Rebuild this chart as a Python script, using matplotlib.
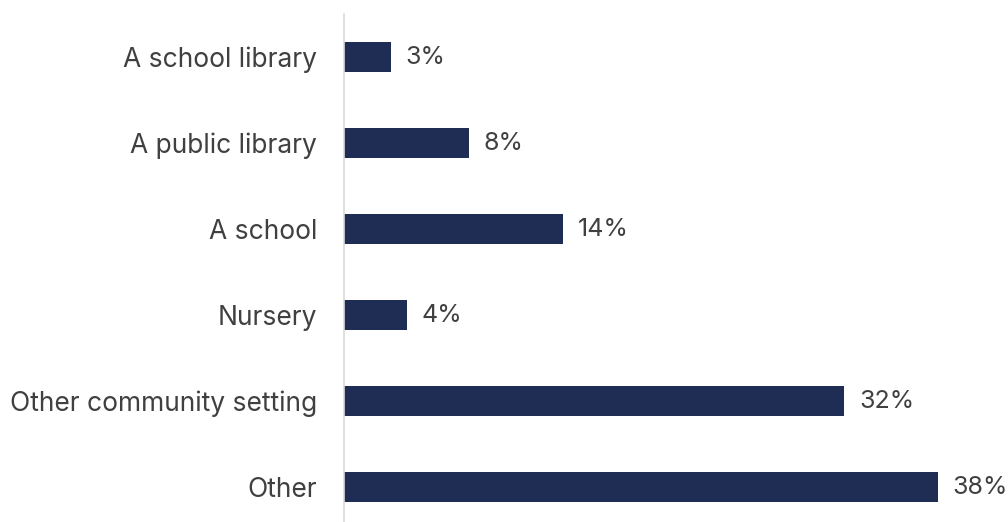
import matplotlib.pyplot as plt

categories = ["A school library", "A public library", "A school", "Nursery",
              "Other community setting", "Other"]
values = [3, 8, 14, 4, 32, 38]
value_labels = ["3%", "8%", "14%", "4%", "32%", "38%"]

bar_color = "#1f2d55"
text_color = "#404040"

plt.rcParams['font.family'] = ['Inter', 'DejaVu Sans']

fig = plt.figure(figsize=(10.08, 5.22), dpi=100)
# axes placed in pixels: left edge on the vertical line, top just above first bar
ax = fig.add_axes([344 / 1008, 0, (938 - 344) / 1008, (522 - 14) / 522])

pos = list(range(len(categories)))
ax.barh(pos, values, height=0.35, color=bar_color)

for p, v, lab in zip(pos, values, value_labels):
    ax.text(v + 0.95, p, lab, va='center', ha='left', fontsize=18,
            color=text_color, clip_on=False)

ax.set_xlim(0, 38)
ax.set_ylim(-0.5 + 508 / 86, -0.5)
ax.set_yticks(pos)
ax.set_yticklabels(categories, fontsize=19, color=text_color)
ax.tick_params(axis='y', length=0, pad=19.5)
ax.set_xticks([])

for s in ['top', 'right', 'bottom']:
    ax.spines[s].set_visible(False)
ax.spines['left'].set_color('#d9d9d9')
ax.spines['left'].set_linewidth(1.2)

fig.savefig("out.png", dpi=100)
